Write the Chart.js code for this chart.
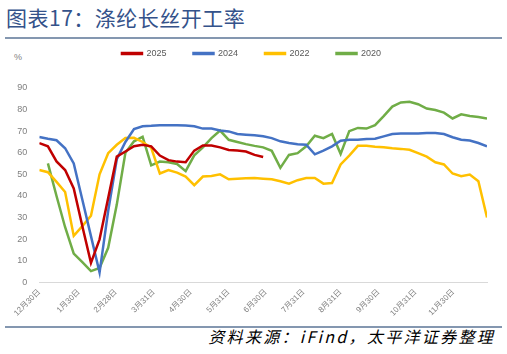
<!DOCTYPE html>
<html>
<head>
<meta charset="utf-8">
<script src="https://cdn.jsdelivr.net/npm/chart.js@4"></script>
<style>
    body { margin: 0; width: 507px; height: 354px; background: #fff; position: relative; overflow: hidden; }
    .title { position: absolute; left: 6px; top: 2px; font: 21px "Noto Sans CJK SC", sans-serif; color: #34528a; letter-spacing: 0.5px; }
    .rule { position: absolute; left: 5px; width: 497px; height: 1.5px; background: #8497b0; }
    .unit { position: absolute; left: 14px; top: 52px; font: 9px "Liberation Sans", sans-serif; color: #7f7f7f; }
    .source { position: absolute; right: 12px; top: 324px; font: italic 16px "Noto Sans CJK SC", sans-serif; color: #000; letter-spacing: 2.3px; }
    #chart { position: absolute; left: 0; top: 0; }
</style>
</head>
<body>
<div class="title">图表17：涤纶长丝开工率</div>
<div class="rule" style="top: 37px"></div>
<div class="unit">%</div>
<canvas id="chart" width="507" height="320"></canvas>
<div class="rule" style="top: 326px"></div>
<div class="source">资料来源：iFind，太平洋证券整理</div>

<script>
// weeks of the year, 0 = 12月30日
var weeks = Array.from({ length: 53 }, function (_, i) { return i; });

// month tick positions (in weeks) and their labels
var tickPos = [0, 4.6, 8.9, 13.3, 17.6, 22, 26.3, 30.7, 35, 39.4, 43.7, 48.1];
var tickLabels = ["12月30日", "1月30日", "2月28日", "3月31日", "4月30日", "5月31日",
    "6月30日", "7月31日", "8月31日", "9月30日", "10月31日", "11月30日"];

var y2025 = [64.5, 63, 56, 52, 43.5, 26, 9, 19.9, 39, 58.2, 60.6, 63, 63.7, 63, 58.7, 56.6,
    55.9, 55.6, 61, 63.4, 63.4, 62.5, 61.3, 61, 60.6, 59, 58];

var y2024 = [67.3, 66.5, 65.8, 62.1, 55.1, 38.2, 21.4, 4.5, 33, 57, 65, 71, 72.3, 72.5, 72.8, 72.8,
    72.8, 72.6, 72.3, 71.2, 71.2, 70.3, 69.9, 68.7, 68.4, 68.1, 67.6, 66.8, 65.3, 64.5, 64, 63.7,
    59.3, 61, 63, 65.6, 66, 66, 66.4, 66.5, 67.6, 68.7, 68.9, 68.9, 68.9, 69.2, 69.2, 68.7, 67.2,
    66, 65.7, 64.5, 63];

var y2022 = [52, 51, 46.5, 41.8, 21.5, 26, 30.8, 50, 59.8, 63.7, 66.8, 66.9, 65, 62.3, 50.4, 52,
    50.8, 49, 45, 49, 49.2, 50, 47.7, 48, 48.2, 48.3, 48, 47.7, 46.8, 45.7, 47.3, 48.3, 48.3, 45.7,
    46, 54.6, 58.7, 63.2, 63.2, 62.8, 62.5, 62.1, 61.8, 61.4, 59.8, 58.2, 55.6, 54.6, 50.4, 49.1,
    49.9, 46.8, 30];

var y2020 = [null, 55.1, 40, 25.5, 13.3, 9.3, 5.2, 6.6, 16, 36, 60, 65.3, 67.4, 54.2, 55.9, 55.6,
    54.8, 51.5, 58.8, 62.5, 66.8, 70.3, 66, 65, 64, 63.2, 62.5, 60.9, 53, 59, 59.8, 63, 67.9, 66.8,
    68.7, 59.5, 70, 71.5, 71.2, 72.8, 77, 81.4, 83.3, 83.6, 82.5, 80.5, 79.8, 78.6, 75.9, 77.8, 77,
    76.6, 75.9];

var series = [
    { label: "2025", values: y2025, color: "#c00000" },
    { label: "2024", values: y2024, color: "#4472c4" },
    { label: "2022", values: y2022, color: "#ffc000" },
    { label: "2020", values: y2020, color: "#70ad47" },
];

var font = "'Liberation Sans', 'Noto Sans CJK SC', sans-serif";

// push the plot down a bit below the legend
var legendGap = {
    id: "legendGap",
    beforeInit: function (chart) {
        var fit = chart.legend.fit;
        chart.legend.fit = function () {
            fit.bind(chart.legend)();
            this.height += 20;
        };
    },
};

new Chart("chart", {
    type: "line",
    data: {
        labels: weeks,
        datasets: series.map(function (s) {
            return {
                label: s.label,
                data: s.values,
                borderColor: s.color,
                backgroundColor: s.color,
                borderWidth: 2.5,
                pointRadius: 0,
                tension: 0,
                spanGaps: false,
            };
        }),
    },
    options: {
        responsive: false,
        animation: false,
        layout: { padding: { top: 22, right: 20, left: 16, bottom: 0 } },
        plugins: {
            legend: {
                labels: {
                    boxWidth: 20,
                    boxHeight: 1,
                    padding: 27,
                    color: "#595959",
                    font: { family: font, size: 9 },
                },
            },
            tooltip: { enabled: false },
        },
        scales: {
            x: {
                type: "linear",
                min: 0,
                max: 52,
                afterBuildTicks: function (scale) {
                    scale.ticks = tickPos.map(function (v) { return { value: v }; });
                },
                afterFit: function (scale) { scale.height = 37.7; },
                grid: { display: false, drawTicks: false },
                border: { display: true, color: "#d9d9d9", width: 1 },
                ticks: {
                    autoSkip: false,
                    maxRotation: 45,
                    minRotation: 45,
                    padding: 5,
                    color: "#7f7f7f",
                    font: { family: font, size: 8 },
                    callback: function (value) {
                        var k = tickPos.indexOf(value);
                        return k >= 0 ? tickLabels[k] : "";
                    },
                },
            },
            y: {
                min: 0,
                max: 90,
                afterFit: function (scale) { scale.width = 23.3; },
                grid: { display: false, drawTicks: false },
                border: { display: false },
                ticks: {
                    stepSize: 10,
                    padding: 12,
                    color: "#7f7f7f",
                    font: { family: font, size: 9 },
                },
            },
        },
    },
    plugins: [legendGap],
});
</script>
</body>
</html>
